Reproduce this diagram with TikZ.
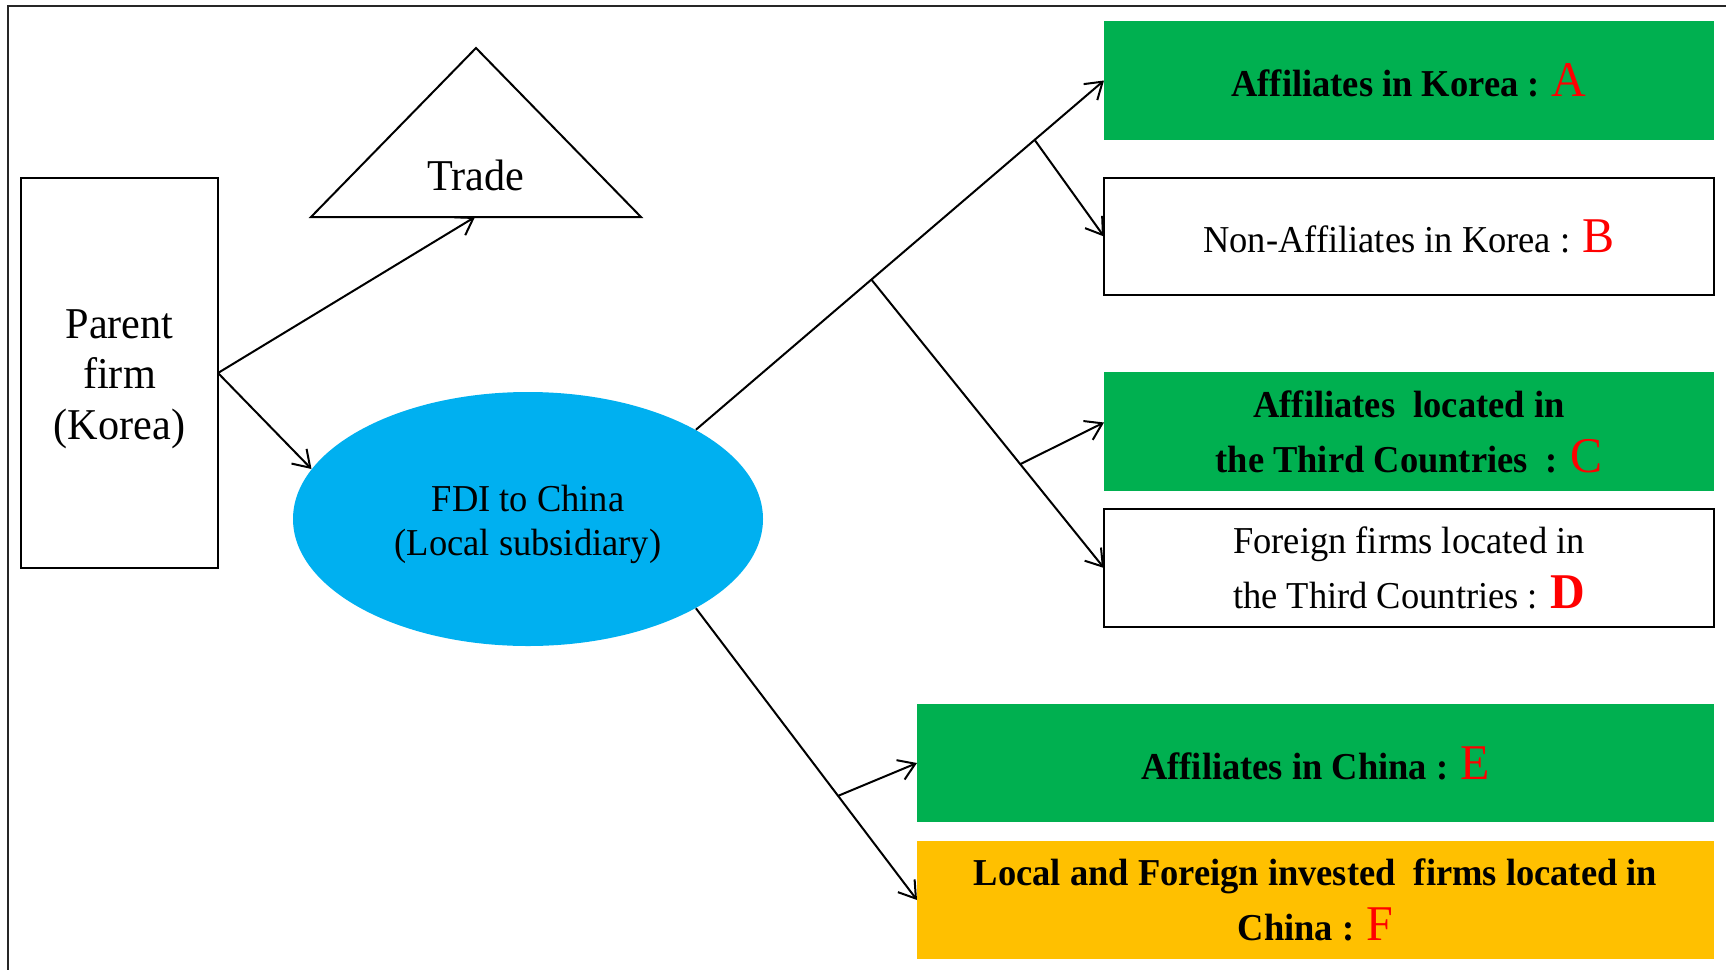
\documentclass[tikz,border=0pt]{standalone}
\usepackage{fontspec}
\setmainfont{Liberation Serif}[FakeStretch=0.96]
\usetikzlibrary{shapes.geometric,arrows.meta,calc}
\definecolor{fgreen}{HTML}{00B050}
\definecolor{forange}{HTML}{FFC000}
\definecolor{fblue}{HTML}{00B0F0}
\definecolor{fred}{HTML}{FF0000}
\newcommand{\redletter}[1]{{\color{fred}\fontsize{25}{27.5}\selectfont\mdseries #1}}
\newcommand{\redbold}[1]{{\color{fred}\fontsize{25}{27.5}\selectfont\bfseries #1}}
\begin{document}
\begin{tikzpicture}[x=0.5pt,y=-0.5pt,
  conn/.style={line width=1pt,-{Straight Barb[length=8pt,width=10.5pt,line width=1pt]}},
  rbox/.style={rectangle,inner sep=0pt,outer sep=0pt,align=center,
     font=\fontsize{19}{27.5}\selectfont},
  whitebox/.style={rbox,draw=black,line width=1pt,fill=white},
  greenbox/.style={rbox,fill=fgreen,font=\fontsize{19}{27.5}\selectfont\bfseries},
  orangebox/.style={rbox,fill=forange,font=\fontsize{19}{27.5}\selectfont\bfseries}]
\useasboundingbox (0,0) rectangle (1726,970);
\fill[white] (0,0) rectangle (1726,970);
% outer frame
\draw[line width=1pt,black!85] (8,990) -- (8,6) -- (1740,6);
% parent
\node[whitebox,minimum width=98.5pt,minimum height=195pt,
  font=\fontsize{22}{25.25}\selectfont] (parent) at (119.5,373)
  {\rule{0pt}{20.5pt}Parent\\firm\\(Korea)};
% trade triangle
\coordinate (tapex) at (476,48);
\coordinate (tleft) at (311,217);
\coordinate (tright) at (641,217);
\coordinate (tbase) at (475,217);
\draw[line width=1pt,line join=miter] (tapex) -- (tright) -- (tleft) -- cycle;
\node[font=\fontsize{22}{25.25}\selectfont,inner sep=0pt,anchor=base] (trade) at (476,190) {Trade};
% FDI ellipse
\node[ellipse,fill=fblue,minimum width=235pt,minimum height=127pt,inner sep=0pt,
  align=center,font=\fontsize{19}{22}\selectfont] (fdi) at (528,519)
  {\rule{0pt}{18.5pt}FDI to China\\(Local subsidiary)};
% right boxes
\node[greenbox,minimum width=305pt,minimum height=59.5pt] (A) at (1409,80.5)
  {Affiliates in Korea : \redletter{A}};
\node[whitebox,minimum width=305pt,minimum height=58.5pt] (B) at (1409,236.5)
  {Non-Affiliates in Korea : \redletter{B}};
\node[greenbox,minimum width=305pt,minimum height=59.5pt] (C) at (1409,431.5)
  {Affiliates\ \ located in\\the Third Countries\ \ : \redletter{C}};
\node[whitebox,minimum width=305pt,minimum height=59pt] (D) at (1409,568)
  {Foreign firms located in\\the Third Countries : \redbold{D}};
\node[greenbox,minimum width=398.5pt,minimum height=59pt] (E) at (1315.5,763)
  {Affiliates in China : \redletter{E}};
\node[orangebox,minimum width=398.5pt,minimum height=59pt] (F) at (1315.5,900)
  {Local and Foreign invested\ \ firms located in\\China : \redletter{F}};
% connectors from parent
\draw[conn] (parent.east) -- (tbase);
\draw[conn] (parent.east) -- (fdi.167);
% upper tree
\coordinate (j1) at ($(fdi.28.6)!0.43!(A.west)$);
\coordinate (j2) at ($(fdi.28.6)!0.83!(A.west)$);
\draw[conn] (fdi.28.6) -- (A.west);
\draw[conn] (j2) -- (B.west);
\coordinate (j3) at ($(j1)!0.64!(D.west)$);
\draw[conn] (j1) -- (D.west);
\coordinate (cend) at ($(C.west)+(0,-9)$);
\draw[conn] (j3) -- (cend);
% lower tree
\coordinate (j4) at ($(fdi.-28.6)!0.643!(F.west)$);
\draw[conn] (fdi.-28.6) -- (F.west);
\draw[conn] (j4) -- (E.west);
\end{tikzpicture}
\end{document}
